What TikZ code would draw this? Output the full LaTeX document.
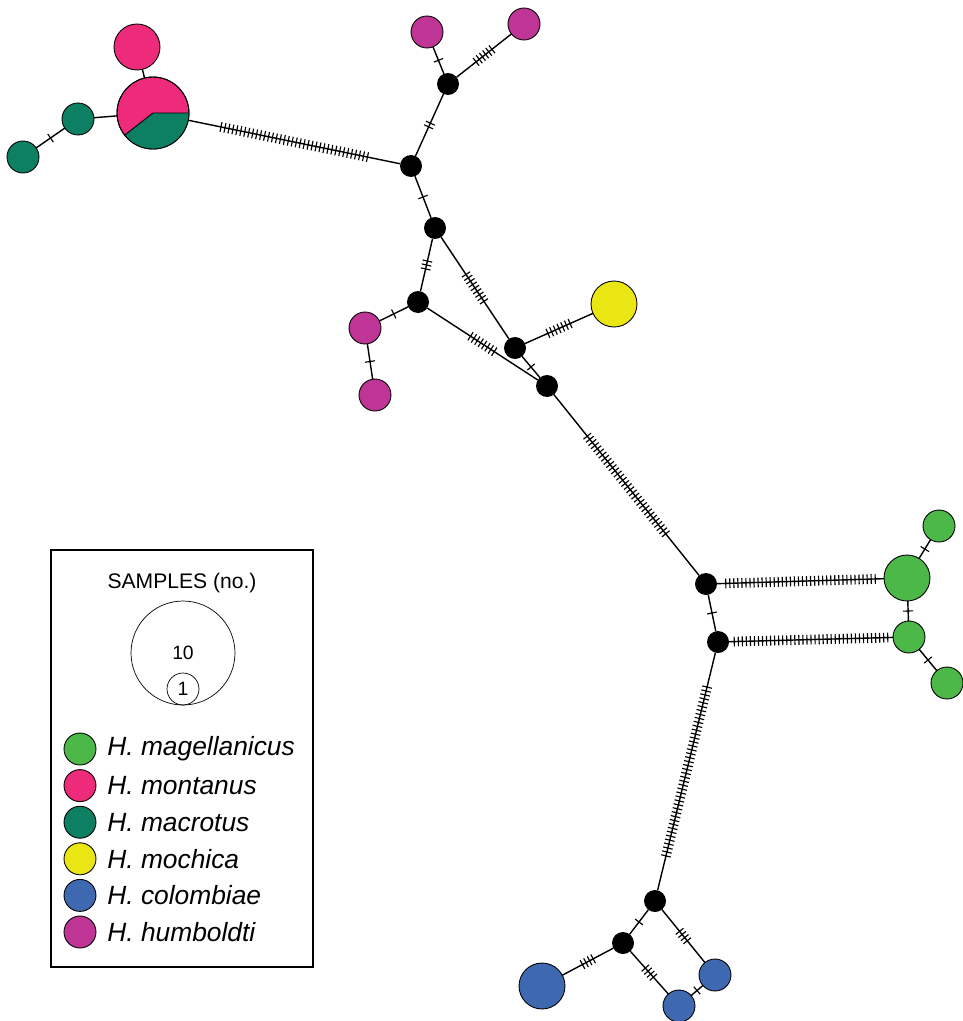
\documentclass[tikz,border=0pt]{standalone}
\usepackage{fontspec}
\setmainfont{Liberation Sans}
\usepackage{tikz}
\usetikzlibrary{calc}
\usetikzlibrary{decorations.markings}

\definecolor{magell}{RGB}{76,184,72}
\definecolor{montanus}{RGB}{238,42,123}
\definecolor{macrotus}{RGB}{13,128,100}
\definecolor{mochica}{RGB}{234,230,19}
\definecolor{colombiae}{RGB}{62,105,177}
\definecolor{humboldti}{RGB}{190,53,150}

\begin{document}
\begin{tikzpicture}[x=0.02cm, y=0.02cm,
    hap/.style={circle, draw=black, line width=0.5pt, inner sep=0pt, outer sep=0pt, minimum size=0.64cm},
    big/.style={minimum size=0.92cm},
    med/.style={circle, fill=black, inner sep=0pt, outer sep=0pt, minimum size=0.44cm},
    link/.style={line width=0.8pt},
    muts/.style={postaction={decorate, decoration={markings, mark=at position 0.5 with {\foreach \k in {1,...,#1} {\draw[line width=0.65pt] ({(\k-(#1+1)/2)*2.3pt},-2.8pt) -- ++(0,5.6pt);}}}}}]
      \useasboundingbox (0,0) rectangle (963,-1021);
      % montanus / macrotus group
      \node[hap, fill=montanus, minimum size=1.44cm] (pie) at (153,-113) {};
      \fill[macrotus] (pie.center) -- (pie.218) arc[start angle=218, end angle=360, radius=0.72cm] -- cycle;
      \draw[line width=0.5pt] (pie.218) -- (pie.center) -- (pie.east);
      \draw[line width=0.5pt] (pie.center) circle[radius=0.72cm];
      \node[hap, fill=montanus, big] (mon1) at (137,-47) {};
      \node[hap, fill=macrotus] (mac1) at (78,-119) {};
      \node[hap, fill=macrotus] (mac2) at (23,-157) {};
      % median vectors and humboldti / mochica
      \node[med] (m1) at (411,-166) {};
      \node[med] (m2) at (448,-84) {};
      \node[hap, fill=humboldti] (hum1) at (427,-32) {};
      \node[hap, fill=humboldti] (hum2) at (524,-24) {};
      \node[med] (m3) at (435,-228) {};
      \node[med] (m4) at (418,-302) {};
      \node[hap, fill=humboldti] (hum3) at (365,-328) {};
      \node[hap, fill=humboldti] (hum4) at (375,-395) {};
      \node[med] (m5) at (515,-348) {};
      \node[hap, fill=mochica, big] (moc1) at (614,-304) {};
      \node[med] (m6) at (547,-386) {};
      % magellanicus group
      \node[med] (m7) at (706,-584) {};
      \node[med] (m8) at (718,-642) {};
      \node[hap, fill=magell, big] (mag1) at (907,-578) {};
      \node[hap, fill=magell] (mag2) at (939,-526) {};
      \node[hap, fill=magell] (mag3) at (909,-637) {};
      \node[hap, fill=magell] (mag4) at (947,-683) {};
      % colombiae group
      \node[med] (m9) at (655,-901) {};
      \node[med] (m10) at (623,-943) {};
      \node[hap, fill=colombiae, big] (col1) at (542,-986) {};
      \node[hap, fill=colombiae] (col2) at (679,-1006) {};
      \node[hap, fill=colombiae] (col3) at (715,-975) {};
      % links with mutation steps
      \draw[link] (pie) -- (mon1);
      \draw[link] (pie) -- (mac1);
      \draw[link, muts=1] (mac1) -- (mac2);
      \draw[link, muts=38] (pie) -- (m1);
      \draw[link, muts=2] (m1) -- (m2);
      \draw[link, muts=1] (m2) -- (hum1);
      \draw[link, muts=6] (m2) -- (hum2);
      \draw[link, muts=1] (m1) -- (m3);
      \draw[link, muts=3] (m3) -- (m4);
      \draw[link, muts=1] (m4) -- (hum3);
      \draw[link, muts=1] (hum3) -- (hum4);
      \draw[link, muts=9] (m3) -- (m5);
      \draw[link, muts=7] (m5) -- (moc1);
      \draw[link, muts=1] (m5) -- (m6);
      \draw[link, muts=8] (m4) -- (m6);
      \draw[link, muts=32] (m6) -- (m7);
      \draw[link, muts=1] (m7) -- (m8);
      \draw[link, muts=38] (m7) -- (mag1);
      \draw[link, muts=1] (mag1) -- (mag2);
      \draw[link, muts=1] (mag1) -- (mag3);
      \draw[link, muts=39] (m8) -- (mag3);
      \draw[link, muts=1] (mag3) -- (mag4);
      \draw[link, muts=44] (m8) -- (m9);
      \draw[link, muts=1] (m9) -- (m10);
      \draw[link, muts=4] (m10) -- (col1);
      \draw[link, muts=4] (m10) -- (col2);
      \draw[link, muts=4] (m9) -- (col3);
      \draw[link, muts=1] (col2) -- (col3);
      % legend
      \draw[line width=0.6pt] (51,-550) rectangle (313,-967);
      \node[] (samples) at (182,-583) {\fontsize{12}{14}\selectfont SAMPLES (no.)};
      \node[circle, draw, line width=0.4pt, inner sep=0pt, minimum size=2.08cm] (ten) at (183,-653) {\fontsize{11}{13}\selectfont 10};
      \node[circle, draw, line width=0.4pt, inner sep=0pt, minimum size=0.64cm] (one) at (183,-689) {\fontsize{11}{13}\selectfont 1};
      \foreach \col/\name [count=\i] in {magell/magellanicus, montanus/montanus, macrotus/macrotus, mochica/mochica, colombiae/colombiae, humboldti/humboldti} {
        \node[hap, fill=\col] (key\i) at (80,{-749-36.6*(\i-1)}) {};
        \node[anchor=west, inner sep=0pt] (lab\i) at (107,{-749-36.6*(\i-1)}) {\fontsize{15}{18}\selectfont\itshape H. \name};
      }
\end{tikzpicture}
\end{document}
